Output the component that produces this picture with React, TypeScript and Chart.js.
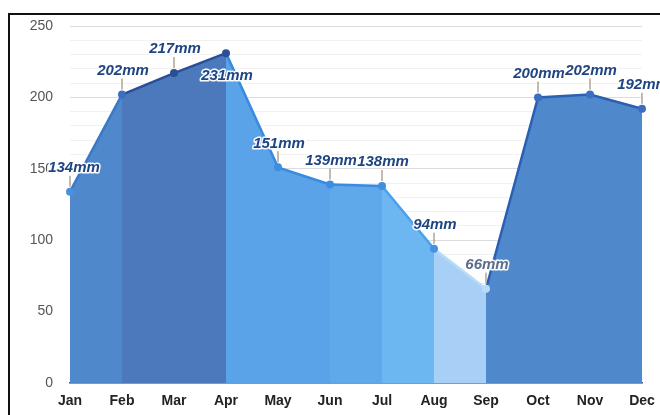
import React, { useEffect, useRef } from "react";
import { Chart, registerables } from "chart.js";

Chart.register(...registerables);

const months = ["Jan", "Feb", "Mar", "Apr", "May", "Jun", "Jul", "Aug", "Sep", "Oct", "Nov", "Dec"];
const precipitation = [134, 202, 217, 231, 151, 139, 138, 94, 66, 200, 202, 192];
const yTickLabels = [0, 50, 100, 150, 200, 250];
const unit = "mm";

const segmentFill = ["#5088cc", "#4c79bb", "#4c79bb", "#5ba3e8", "#5ba3e8", "#5fa8ea", "#6cb6f2", "#a8d0f6", "#5088cc", "#5088cc", "#5088cc"];
const segmentLine = ["#3a78c8", "#2b4f96", "#2b4f96", "#3a8ae0", "#3a8ae0", "#3a8ae0", "#4aa0ea", "#b8dcf8", "#2a5fb4", "#2a5fb4", "#2a5fb4"];
const pointColors = ["#4a90e0", "#3a70c0", "#2b4f96", "#2b4f96", "#3d8ee0", "#3d8ee0", "#3d8ee0", "#4a90e0", "#b8dcf8", "#3a6ec0", "#3a6ec0", "#3a6ec0"];
const labelBelow = [false, false, false, true, false, false, false, false, false, false, false, false];

const labelPlugin = {
  id: "valueLabels",
  afterDatasetsDraw(chart: any) {
    const ctx = chart.ctx;
    const meta = chart.getDatasetMeta(0);
    ctx.save();
    meta.data.forEach((pt: any, i: number) => {
      const x = pt.x;
      const y = pt.y;
      const below = labelBelow[i];
      if (!below) {
        ctx.strokeStyle = "#b0a596";
        ctx.lineWidth = 1.5;
        ctx.beginPath();
        ctx.moveTo(x, y - 5);
        ctx.lineTo(x, y - 16);
        ctx.stroke();
      }
      const ty = below ? y + 23 : y - 24;
      const tx = i === 0 ? x + 4 : x + 1;
      ctx.font = "italic bold 15px 'Liberation Sans', Arial, sans-serif";
      ctx.textAlign = "center";
      ctx.textBaseline = "middle";
      const text = precipitation[i] + unit;
      ctx.lineJoin = "round";
      ctx.strokeStyle = "rgba(255,255,255,0.95)";
      ctx.lineWidth = 3;
      ctx.strokeText(text, tx, ty);
      ctx.fillStyle = i === 8 ? "#5a6f8c" : "#1f4582";
      ctx.fillText(text, tx, ty);
    });
    ctx.restore();
  },
};

export default function App() {
  const ref = useRef<HTMLCanvasElement | null>(null);

  useEffect(() => {
    document.body.style.margin = "0";
    const canvas = ref.current;
    if (!canvas) return;
    const chart = new Chart(canvas, {
      type: "line",
      data: {
        labels: months,
        datasets: [
          {
            data: precipitation,
            fill: "origin",
            backgroundColor: "#5088cc",
            borderColor: "#2a5fb4",
            borderWidth: 2.5,
            tension: 0,
            pointRadius: 4,
            pointBorderWidth: 0,
            pointBackgroundColor: pointColors,
            pointBorderColor: pointColors,
            segment: {
              backgroundColor: (c: any) => segmentFill[c.p0DataIndex],
              borderColor: (c: any) => segmentLine[c.p0DataIndex],
            },
          } as any,
        ],
      },
      options: {
        animation: false,
        responsive: false,
        maintainAspectRatio: false,
        layout: { padding: { left: 18, right: 18, top: 11, bottom: 0 } },
        plugins: {
          legend: { display: false },
          tooltip: { enabled: false },
          title: { display: false },
        },
        scales: {
          x: {
            offset: false,
            grid: { display: false, drawTicks: false },
            border: { display: true, color: "#34558a", width: 1.5 },
            afterFit: (s: any) => {
              s.height = 32;
              s.paddingLeft = 0;
              s.paddingRight = 0;
            },
            ticks: {
              padding: 10,
              color: "#222",
              maxRotation: 0,
              font: { family: "'Liberation Sans', Arial, sans-serif", size: 14, weight: "bold" },
            },
          },
          y: {
            min: 0,
            max: 250,
            afterFit: (s: any) => {
              s.width = 42;
              s.paddingTop = 0;
              s.paddingBottom = 0;
            },
            grid: {
              drawTicks: false,
              color: (c: any) => (yTickLabels.includes(c.tick.value) ? "#dcdcdc" : "#f1f1f1"),
              lineWidth: 1,
            },
            border: { display: false },
            ticks: {
              stepSize: 10,
              autoSkip: false,
              padding: 17,
              color: "#555",
              font: { family: "'Liberation Sans', Arial, sans-serif", size: 14 },
              callback: (v: any) => (yTickLabels.includes(Number(v)) ? String(v) : ""),
            },
          },
        },
      },
      plugins: [labelPlugin],
    });
    return () => chart.destroy();
  }, []);

  return (
    <div style={{ position: "relative", width: 660, height: 415, overflow: "hidden", background: "#fff" }}>
      <div
        style={{
          position: "absolute",
          top: -24,
          left: 0,
          width: 660,
          textAlign: "center",
          font: "bold 20px 'Liberation Sans', Arial, sans-serif",
          color: "#111",
          whiteSpace: "nowrap",
        }}
      >
        Average monthly precipitation over the year (rainfall)
      </div>
      <div
        style={{
          position: "absolute",
          left: 8,
          top: 13,
          width: 652,
          height: 402,
          borderTop: "2px solid #111",
          borderLeft: "2px solid #111",
          background: "#fff",
        }}
      >
        <canvas ref={ref} width={650} height={400} style={{ display: "block", width: 650, height: 400 }} />
      </div>
    </div>
  );
}
